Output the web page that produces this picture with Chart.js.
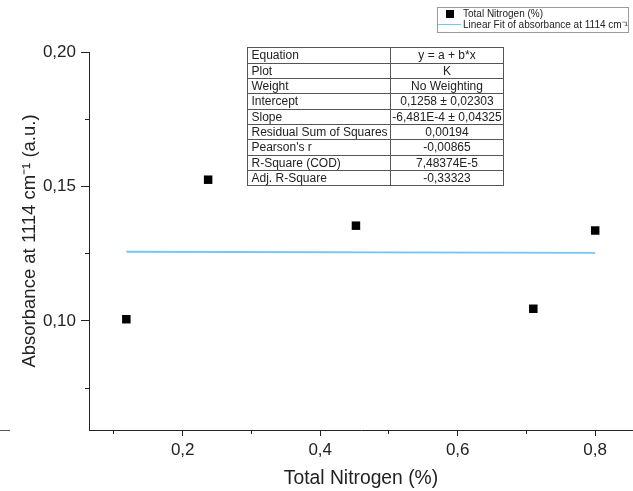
<!DOCTYPE html>
<html>
<head>
<meta charset="utf-8">
<script src="https://cdn.jsdelivr.net/npm/chart.js@4.4.0/dist/chart.umd.min.js"></script>
<style>
	html, body { margin: 0; padding: 0; background: #fff; }
	canvas { display: block; }
</style>
</head>
<body>
<canvas id="myChart" width="633" height="491"></canvas>
<script>
// Values.
const nitrogen = [0.118, 0.237, 0.452, 0.710, 0.800];
const absorbance = [0.1006, 0.1525, 0.1354, 0.1045, 0.1336];
const fitX = [0.118, 0.800];
const fitY = [0.1257, 0.1253];

const xTickValues = [0.2, 0.4, 0.6, 0.8];
const xTickLabels = ["0,2", "0,4", "0,6", "0,8"];
const yTickValues = [0.10, 0.15, 0.20];
const yTickLabels = ["0,10", "0,15", "0,20"];

const fitTableLabels = ["Equation", "Plot", "Weight", "Intercept", "Slope",
	"Residual Sum of Squares", "Pearson's r", "R-Square (COD)", "Adj. R-Square"];
const fitTableValues = ["y = a + b*x", "K", "No Weighting", "0,1258 ± 0,02303",
	"-6,481E-4 ± 0,04325", "0,00194", "-0,00865", "7,48374E-5", "-0,33323"];

const FONT = "'Liberation Sans', Arial, sans-serif";
const INK = "#222";

function tickIndex(values, v) {
	return values.findIndex(t => Math.abs(t - v) < 1e-6);
}

function drawLegend(chart) {
	const ctx = chart.ctx;
	const [points, fit] = chart.data.datasets;
	ctx.fillStyle = "#fff";
	ctx.fillRect(437, 7, 191, 25);
	ctx.strokeStyle = "#9a9a9a";
	ctx.lineWidth = 1;
	ctx.strokeRect(437.5, 7.5, 191, 25);

	ctx.fillStyle = points.backgroundColor;
	ctx.fillRect(446, 10, 8, 8);
	ctx.strokeStyle = fit.borderColor;
	ctx.beginPath();
	ctx.moveTo(438, 24.5);
	ctx.lineTo(461, 24.5);
	ctx.stroke();

	ctx.fillStyle = INK;
	ctx.font = "10px " + FONT;
	ctx.textAlign = "left";
	ctx.textBaseline = "middle";
	ctx.fillText(points.label, 463, 14);
	ctx.fillText(fit.label, 463, 25);
}

function drawTable(ctx) {
	const left = 247.5, top = 47.3, rowH = 15.33, col1 = 143, col2 = 113;
	ctx.lineWidth = 1;
	ctx.strokeStyle = "#555";
	ctx.fillStyle = INK;
	ctx.font = "12px " + FONT;
	ctx.textBaseline = "middle";
	fitTableLabels.forEach((label, i) => {
		const y = Math.round(top + i * rowH) + 0.5;
		const h = Math.round(top + (i + 1) * rowH) - Math.round(top + i * rowH);
		ctx.strokeRect(left, y, col1, h);
		ctx.strokeRect(left + col1, y, col2, h);
		ctx.textAlign = "left";
		ctx.fillText(label, left + 4, y + h / 2 + 0.5);
		ctx.textAlign = "center";
		ctx.fillText(fitTableValues[i], left + col1 + col2 / 2, y + h / 2 + 0.5);
	});
}

const annotations = {
	id: "annotations",
	beforeDraw(chart) {
		const ctx = chart.ctx;
		ctx.save();
		ctx.fillStyle = "#fff";
		ctx.fillRect(0, 0, chart.width, chart.height);
		ctx.restore();
	},
	afterDraw(chart) {
		const ctx = chart.ctx;
		ctx.save();
		// small stub of axis line at the far left of the picture
		const base = Math.round(chart.scales.x.top) + 0.5;
		ctx.strokeStyle = "#555";
		ctx.lineWidth = 1;
		ctx.beginPath();
		ctx.moveTo(0, base);
		ctx.lineTo(10, base);
		ctx.stroke();
		drawTable(ctx);
		drawLegend(chart);
		ctx.restore();
	}
};

const datasets = [
	{
		type: "scatter",
		label: "Total Nitrogen (%)",
		data: nitrogen.map((x, i) => ({x, y: absorbance[i]})),
		pointStyle: "rect",
		pointRadius: 6,
		pointHoverRadius: 6,
		backgroundColor: "#000",
		borderWidth: 0
	}, {
		type: "line",
		label: "Linear Fit of absorbance at 1114 cm⁻¹",
		data: fitX.map((x, i) => ({x, y: fitY[i]})),
		borderColor: "#74c6f6",
		borderWidth: 1.8,
		pointRadius: 0,
		tension: 0
	}
];

const ctx = document.getElementById("myChart").getContext("2d");
const myChart = new Chart(ctx, {
	data: {datasets},
	plugins: [annotations],
	options: {
		responsive: false,
		animation: false,
		devicePixelRatio: 1,
		layout: {autoPadding: false, padding: {top: 52, left: 0, right: 0, bottom: 0}},
		plugins: {legend: {display: false}, tooltip: {enabled: false}},
		scales: {
			x: {
				type: "linear",
				position: "bottom",
				min: 0.0637,
				max: 0.855,
				afterFit: scale => {
					scale.height = 61;
					scale.paddingLeft = 0;
					scale.paddingRight = 0;
				},
				border: {color: INK, width: 1},
				grid: {
					drawOnChartArea: false,
					tickLength: 6,
					tickColor: INK,
					tickBorderDash: c => tickIndex(xTickValues, c.tick ? c.tick.value : 0) >= 0 ? [] : [3, 20]
				},
				ticks: {
					stepSize: 0.1,
					autoSkip: false,
					includeBounds: false,
					maxRotation: 0,
					padding: 4,
					color: INK,
					font: {size: 17, family: FONT},
					callback: v => {
						const i = tickIndex(xTickValues, v);
						return i >= 0 ? xTickLabels[i] : "";
					}
				},
				title: {
					display: true,
					text: "Total Nitrogen (%)",
					color: INK,
					font: {size: 19.3, family: FONT},
					padding: {top: 0, bottom: 1}
				}
			},
			y: {
				type: "linear",
				position: "left",
				min: 0.0594,
				max: 0.20,
				afterFit: scale => {
					scale.width = 89;
					scale.paddingTop = 0;
					scale.paddingBottom = 0;
				},
				border: {color: INK, width: 1},
				grid: {
					drawOnChartArea: false,
					tickLength: 8,
					tickColor: INK,
					tickBorderDash: c => tickIndex(yTickValues, c.tick ? c.tick.value : 0) >= 0 ? [] : [0, 4, 4, 20]
				},
				ticks: {
					stepSize: 0.025,
					autoSkip: false,
					includeBounds: false,
					padding: 5,
					color: INK,
					font: {size: 17, family: FONT},
					callback: v => {
						const i = tickIndex(yTickValues, v);
						return i >= 0 ? yTickLabels[i] : "";
					}
				},
				title: {
					display: true,
					text: "Absorbance at 1114 cm⁻¹ (a.u.)",
					color: INK,
					font: {size: 18.5, family: FONT},
					padding: {top: 19, bottom: 0}
				}
			}
		}
	}
});
</script>
</body>
</html>
